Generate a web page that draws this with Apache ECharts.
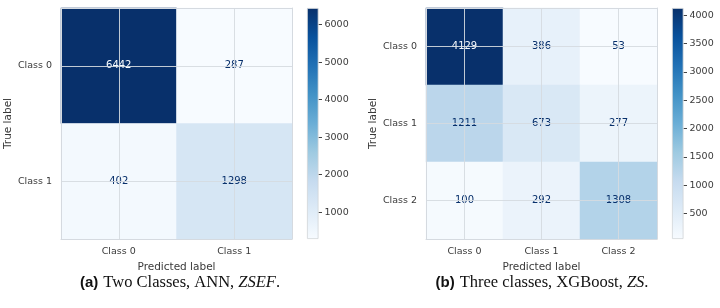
<!DOCTYPE html>
<html><head><meta charset="utf-8">
<script src="https://cdn.jsdelivr.net/npm/echarts@6/dist/echarts.min.js"></script>
<style>html,body{margin:0;padding:0;background:#fff}#c{width:720px;height:308px}</style>
</head><body><div id="c"></div>
<script>
// ---- data ----
const classesA = ['Class 0', 'Class 1'];
const matrixA = [[6442, 287], [402, 1298]];          // rows: true label, cols: predicted
const cbTicksA = [1000, 2000, 3000, 4000, 5000, 6000];
const captionA = ['(a)', 'Two Classes, ANN, ', 'ZSEF', '.'];

const classesB = ['Class 0', 'Class 1', 'Class 2'];
const matrixB = [[4129, 386, 53], [1211, 673, 277], [100, 292, 1308]];
const cbTicksB = [500, 1000, 1500, 2000, 2500, 3000, 3500, 4000];
const captionB = ['(b)', 'Three classes, XGBoost, ', 'ZS', '.'];

const blues = ['#f7fbff','#deebf7','#c6dbef','#9ecae1','#6baed6','#4292c6','#2171b5','#08519c','#08306b'];

// ---- build ----
const FONT = 'DejaVu Sans';
const TXT = '#3a3a3a';
const GRIDC = '#d5dae0';
const option = {
  animation: false,
  backgroundColor: '#fff',
  grid: [], xAxis: [], yAxis: [], series: [], visualMap: [], title: []
};

function panel(classes, matrix, ticks, caption, L, cbL, capX) {
  const flat = [].concat(...matrix);
  const mn = Math.min(...flat), mx = Math.max(...flat);
  const thr = (mn + mx) / 2;
  const g = option.grid.length;
  option.grid.push({left: L, top: 8, width: 231, height: 231});
  option.grid.push({left: cbL, top: 8, width: 11.5, height: 231});
  const xi = option.xAxis.length, yi = option.yAxis.length;
  option.xAxis.push({type: 'category', gridIndex: g, data: classes, position: 'bottom',
    axisLine: {show: true, lineStyle: {color: GRIDC}}, axisTick: {show: false}, splitLine: {show: false},
    axisLabel: {color: TXT, fontFamily: FONT, fontSize: 9.5, margin: 8},
    name: 'Predicted label', nameLocation: 'middle', nameGap: 19.5,
    nameTextStyle: {color: TXT, fontFamily: FONT, fontSize: 10.5}, z: 10});
  option.xAxis.push({type: 'category', gridIndex: g, data: classes, position: 'top',
    axisLine: {show: true, lineStyle: {color: GRIDC}}, axisTick: {show: false}, axisLabel: {show: false}, z: 10});
  option.xAxis.push({type: 'category', gridIndex: g + 1, data: [''], show: false});
  option.yAxis.push({type: 'category', gridIndex: g, data: classes, inverse: true,
    axisLine: {show: true, lineStyle: {color: GRIDC}}, axisTick: {show: false}, splitLine: {show: false},
    axisLabel: {color: TXT, fontFamily: FONT, fontSize: 9.5, margin: 9},
    name: 'True label', nameLocation: 'middle', nameGap: 44,
    nameTextStyle: {color: TXT, fontFamily: FONT, fontSize: 10.5}, z: 10});
  option.yAxis.push({type: 'category', gridIndex: g, data: classes, inverse: true, position: 'right',
    axisLine: {show: true, lineStyle: {color: GRIDC}}, axisTick: {show: false}, axisLabel: {show: false}, z: 10});
  option.yAxis.push({type: 'value', gridIndex: g + 1, min: mn, max: mx, position: 'right',
    axisLine: {show: false}, splitLine: {show: false},
    axisTick: {show: true, length: 3.5, lineStyle: {color: '#444'}, customValues: ticks},
    axisLabel: {color: TXT, fontFamily: FONT, fontSize: 9.5, margin: 6, customValues: ticks,
      formatter: v => String(v)}});

  const data = [];
  matrix.forEach((row, r) => row.forEach((v, c) => {
    data.push({value: [c, r, v], label: {color: v > thr ? blues[0] : blues[8]}});
  }));
  const hs = option.series.length;
  option.series.push({
    type: 'heatmap', xAxisIndex: xi, yAxisIndex: yi, data: data,
    label: {show: true, fontFamily: FONT, fontSize: 10, formatter: p => String(p.value[2])},
    emphasis: {disabled: true},
    markLine: {silent: true, symbol: ['none', 'none'], label: {show: false},
      lineStyle: {color: GRIDC, width: 1, type: 'solid', opacity: 0.9},
      emphasis: {disabled: true},
      data: classes.map(c => ({xAxis: c})).concat(classes.map(c => ({yAxis: c})))}
  });
  option.visualMap.push({show: false, seriesIndex: hs, min: mn, max: mx, inRange: {color: blues}});
  const stops = blues.slice().reverse().map((col, i) => ({offset: i / (blues.length - 1), color: col}));
  option.series.push({type: 'bar', xAxisIndex: xi + 2, yAxisIndex: yi + 2, stack: 'cb' + g,
    data: [mn], itemStyle: {color: 'transparent'}, barWidth: '100%', silent: true});
  option.series.push({type: 'bar', xAxisIndex: xi + 2, yAxisIndex: yi + 2, stack: 'cb' + g,
    data: [mx - mn], barWidth: '100%', silent: true,
    itemStyle: {color: {type: 'linear', x: 0, y: 0, x2: 0, y2: 1, colorStops: stops},
      borderColor: '#d0d4d8', borderWidth: 0.8}});
  option.title.push({
    left: capX, top: 274, textAlign: 'center', padding: 0,
    text: '{b|' + caption[0] + '} {r|' + caption[1] + '}{i|' + caption[2] + '}{r|' + caption[3] + '}',
    textStyle: {fontWeight: 'normal', rich: {
      b: {fontFamily: 'Liberation Sans', fontWeight: 'bold', fontSize: 15, color: '#111'},
      r: {fontFamily: 'Liberation Serif', fontWeight: 'normal', fontSize: 16.5, color: '#111'},
      i: {fontFamily: 'Liberation Serif', fontWeight: 'normal', fontStyle: 'italic', fontSize: 16.5, color: '#111'}
    }}
  });
}

panel(classesA, matrixA, cbTicksA, captionA, 61, 307, 180);
panel(classesB, matrixB, cbTicksB, captionB, 542 - 116, 672, 542);

const chart = echarts.init(document.getElementById('c'), null, {renderer: 'canvas'});
chart.setOption(option);
</script>
</body></html>
